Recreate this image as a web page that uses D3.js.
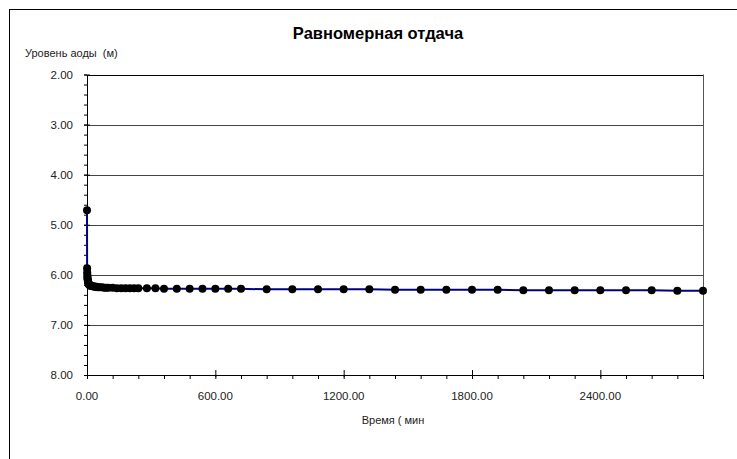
<!DOCTYPE html>
<html>
<head>
<meta charset="utf-8">
<script src="https://cdn.jsdelivr.net/npm/d3@7"></script>
<style>
  body { margin: 0; background: #fff; }
  svg { display: block; font-family: 'Liberation Sans', Arial, sans-serif; }
  text { white-space: pre; }
</style>
</head>
<body>
<div id="chart"></div>
<script>
// time (min) and water level (m)
let times = [0, 0.5, 1, 1.5, 2, 2.5, 3, 4, 5, 6, 7, 8, 9, 10, 12, 14, 16, 18, 20,
  25, 30, 35, 40, 45, 50, 60, 70, 80, 90, 100, 120, 140, 160, 180, 200, 220, 240,
  280, 320, 360, 420, 480, 540, 600, 660, 720, 840, 960, 1080, 1200, 1320, 1440,
  1560, 1680, 1800, 1920, 2040, 2160, 2280, 2400, 2520, 2640, 2760, 2880]
let levels = [4.71, 5.87, 5.95, 6.00, 6.04, 6.07, 6.09, 6.12, 6.14, 6.16, 6.17, 6.18, 6.19, 6.20, 6.21, 6.21, 6.22, 6.22, 6.22,
  6.23, 6.23, 6.24, 6.24, 6.24, 6.25, 6.25, 6.25, 6.26, 6.26, 6.26, 6.26, 6.27, 6.27, 6.27, 6.27, 6.27, 6.27,
  6.27, 6.27, 6.28, 6.28, 6.28, 6.28, 6.28, 6.28, 6.28, 6.29, 6.29, 6.29, 6.29, 6.29, 6.30,
  6.30, 6.30, 6.30, 6.30, 6.31, 6.31, 6.31, 6.31, 6.31, 6.31, 6.32, 6.32]

let xTicks = [0, 600, 1200, 1800, 2400]
let yTicks = [2, 3, 4, 5, 6, 7, 8]

let title = 'Равномерная отдача'
let yTitle = 'Уровень аоды  (м)'
let xTitle = 'Время ( мин'

let width = 737
let height = 459
let margin = { top: 74.5, left: 87, right: 34, bottom: 84 }

let svg = d3.select('#chart')
  .append('svg')
  .attr('width', width)
  .attr('height', height)

// outer chart border (right/bottom run off the picture)
svg.append('rect')
  .attr('x', 9.5)
  .attr('y', 9.5)
  .attr('width', 760)
  .attr('height', 480)
  .attr('fill', 'none')
  .attr('stroke', '#000')

let xScale = d3.scaleLinear()
  .domain([0, 2880])
  .range([margin.left, width - margin.right])

let yScale = d3.scaleLinear()
  .domain([2, 8])
  .range([margin.top, height - margin.bottom])

let data = times.map((t, i) => ({ t: t, v: levels[i] }))

// gridlines
svg.selectAll('.grid')
  .data(yTicks.slice(0, -1))
  .enter()
  .append('line')
  .attr('x1', xScale(0))
  .attr('x2', xScale(2880))
  .attr('y1', d => Math.round(yScale(d)) + 0.5)
  .attr('y2', d => Math.round(yScale(d)) + 0.5)
  .attr('stroke', d => d === 2 ? '#000' : '#444')

// right border of plot area
svg.append('line')
  .attr('x1', Math.round(xScale(2880)) + 0.5)
  .attr('x2', Math.round(xScale(2880)) + 0.5)
  .attr('y1', yScale(2))
  .attr('y2', yScale(8))
  .attr('stroke', '#555')

// y axis
let yAxis = svg.append('g')
  .attr('transform', `translate(${xScale(0)},0)`)

yAxis.append('g')
  .call(d3.axisLeft(yScale).tickValues(d3.range(2, 8.01, 0.2)).tickSize(3).tickFormat(''))
  .call(g => g.select('.domain').remove())

yAxis.append('g')
  .call(d3.axisLeft(yScale).tickValues(yTicks).tickSizeInner(-3).tickSizeOuter(0).tickFormat(''))
  .call(g => g.selectAll('.tick line').attr('x1', -3).attr('x2', 3))

yAxis.selectAll('line, path').attr('stroke', '#000')

svg.selectAll('.ylabel')
  .data(yTicks)
  .enter()
  .append('text')
  .attr('x', 73)
  .attr('y', d => yScale(d) + 4)
  .attr('text-anchor', 'end')
  .attr('font-size', '11.5px')
  .attr('fill', '#222')
  .text(d => d.toFixed(2))

// x axis
let xAxis = svg.append('g')
  .attr('transform', `translate(0,${yScale(8)})`)

xAxis.append('g')
  .call(d3.axisBottom(xScale).tickValues(d3.range(0, 2881, 120)).tickSize(4).tickFormat(''))
  .call(g => g.select('.domain').remove())

xAxis.append('g')
  .call(d3.axisBottom(xScale).tickValues(xTicks).tickSizeInner(2).tickSizeOuter(0).tickFormat(''))
  .call(g => g.selectAll('.tick line').attr('y1', -5).attr('y2', 2))

xAxis.selectAll('line, path').attr('stroke', '#000')

svg.selectAll('.xlabel')
  .data(xTicks)
  .enter()
  .append('text')
  .attr('x', d => xScale(d))
  .attr('y', 400)
  .attr('text-anchor', 'middle')
  .attr('font-size', '11.5px')
  .attr('fill', '#222')
  .text(d => d.toFixed(2))

// series
let line = d3.line()
  .x(d => xScale(d.t))
  .y(d => yScale(d.v))

svg.append('path')
  .datum(data)
  .attr('d', line)
  .attr('fill', 'none')
  .attr('stroke', '#000080')
  .attr('stroke-width', 2)

svg.selectAll('.point')
  .data(data)
  .enter()
  .append('circle')
  .attr('cx', d => xScale(d.t))
  .attr('cy', d => yScale(d.v))
  .attr('r', 4)
  .attr('fill', '#000')

// titles
svg.append('text')
  .attr('x', 378)
  .attr('y', 39)
  .attr('text-anchor', 'middle')
  .attr('font-size', '16.5px')
  .attr('font-weight', 'bold')
  .text(title)

svg.append('text')
  .attr('x', 25)
  .attr('y', 57)
  .attr('font-size', '11px')
  .attr('fill', '#222')
  .text(yTitle)

svg.append('text')
  .attr('x', 393)
  .attr('y', 424)
  .attr('text-anchor', 'middle')
  .attr('font-size', '11px')
  .attr('fill', '#222')
  .text(xTitle)
</script>
</body>
</html>
